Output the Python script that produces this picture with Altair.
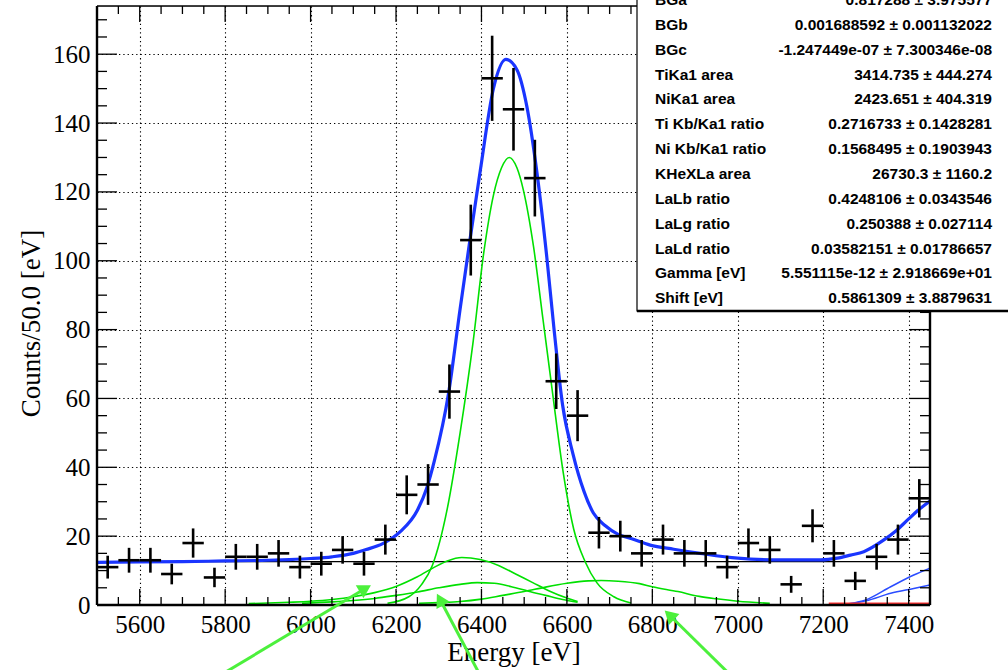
import altair as alt
import pandas as pd

# ---------------- data ----------------
bin_center = [5525, 5575, 5625, 5675, 5725, 5775, 5825, 5875, 5925, 5975,
              6025, 6075, 6125, 6175, 6225, 6275, 6325, 6375, 6425, 6475,
              6525, 6575, 6625, 6675, 6725, 6775, 6825, 6875, 6925, 6975,
              7025, 7075, 7125, 7175, 7225, 7275, 7325, 7375, 7425]
counts = [11, 13, 13, 9, 18, 8, 14, 14, 15, 11,
          12, 16, 12, 19, 32, 35, 62, 106, 153, 144,
          124, 65, 55, 21, 20, 15, 19, 15, 15, 11,
          18, 16, 6, 23, 15, 7, 14, 19, 31]

total_e = [5500, 5600, 5700, 5800, 5900, 5950, 6000, 6050, 6100, 6130, 6170,
           6210, 6250, 6272, 6290, 6323, 6350, 6373, 6397, 6428, 6457, 6483,
           6506, 6530, 6553, 6570, 6590, 6614, 6640, 6662, 6690, 6720, 6750,
           6795, 6850, 6912, 7000, 7100, 7194, 7233, 7264, 7295, 7342, 7370,
           7400, 7425, 7450]
total_v = [12.4, 12.5, 12.6, 12.8, 13.0, 13.2, 13.5, 14.0, 15.0, 16.1, 17.9,
           21.3, 27.5, 34.0, 42.0, 61.5, 86.0, 106.0, 126.0, 150.0, 158.5, 155.5,
           145.0, 125.5, 101.0, 80.0, 58.0, 44.0, 33.0, 26.7, 23.0, 20.5, 19.3,
           17.4, 16.2, 15.0, 13.6, 13.1, 13.1, 13.6, 14.5, 15.5, 18.9, 21.5,
           25.0, 27.8, 30.2]

lalpha_e = [6180, 6230, 6260, 6285, 6320, 6350, 6380, 6405, 6428, 6447, 6465,
            6483, 6498, 6522, 6544, 6565, 6592, 6616, 6643, 6670, 6710, 6750]
lalpha_v = [0.5, 2.4, 6.0, 11.5, 28.0, 50.0, 76.0, 102.0, 119.0, 127.0, 130.0,
            127.0, 120.6, 104.0, 83.0, 63.0, 38.0, 22.0, 12.5, 6.5, 2.4, 0.6]

bump1_e = [5855, 5950, 6000, 6050, 6100, 6150, 6200, 6250, 6290, 6320, 6354,
           6397, 6440, 6480, 6520, 6560, 6600, 6625]
bump1_v = [0.4, 0.8, 1.1, 1.6, 2.4, 3.6, 5.4, 8.2, 11.0, 12.8, 13.8,
           13.2, 11.5, 9.0, 6.5, 4.0, 2.0, 1.0]

bump2_e = [5980, 6050, 6100, 6150, 6200, 6250, 6300, 6350, 6390, 6430, 6470,
           6510, 6550, 6590, 6625]
bump2_v = [0.5, 0.9, 1.3, 1.9, 2.8, 3.8, 5.0, 6.0, 6.5, 6.3, 5.3,
           4.0, 2.8, 1.6, 0.8]

bump3_e = [6254, 6300, 6350, 6400, 6450, 6500, 6550, 6600, 6650, 6680, 6720,
           6770, 6800, 6860, 6910, 6950, 7000, 7075]
bump3_v = [0.5, 0.7, 1.0, 1.7, 2.8, 3.9, 5.2, 6.3, 7.0, 7.1, 6.9,
           6.2, 5.3, 3.9, 2.5, 1.8, 1.1, 0.5]

kb1_e = [7256, 7300, 7358, 7412, 7450]
kb1_v = [0.3, 1.5, 5.3, 8.7, 10.7]
kb2_e = [7256, 7300, 7358, 7412, 7450]
kb2_v = [0.3, 1.2, 3.4, 4.8, 5.8]
red_e = [7213, 7450]
red_v = [0.4, 0.4]
bg_e = [5500, 7450]
bg_v = [12.6, 12.6]

x_major = [5600, 5800, 6000, 6200, 6400, 6600, 6800, 7000, 7200, 7400]
x_minor = [e for e in range(5550, 7451, 50) if e not in x_major]
y_major = [0, 20, 40, 60, 80, 100, 120, 140, 160]
y_minor = [v for v in range(5, 171, 5) if v not in y_major]

arrow_tail_e = [5801, 6393, 6976]
arrow_tail_v = [-19.5, -19.5, -19.5]
arrow_tip_e = [6128, 6303, 6840]
arrow_tip_v = [4.8, 1.6, -2.9]
arrow_angle = [59.6, 331.4, 313.6]

stat_labels = ["BGa", "BGb", "BGc", "TiKa1 area", "NiKa1 area", "Ti Kb/Ka1 ratio",
               "Ni Kb/Ka1 ratio", "KHeXLa area", "LaLb ratio", "LaLg ratio",
               "LaLd ratio", "Gamma [eV]", "Shift [eV]"]
stat_values = ["0.817288 ± 3.975577", "0.001688592 ± 0.001132022",
               "-1.247449e-07 ± 7.300346e-08", "3414.735 ± 444.274",
               "2423.651 ± 404.319", "0.2716733 ± 0.1428281",
               "0.1568495 ± 0.1903943", "26730.3 ± 1160.2",
               "0.4248106 ± 0.0343546", "0.250388 ± 0.027114",
               "0.03582151 ± 0.01786657", "5.551115e-12 ± 2.918669e+01",
               "0.5861309 ± 3.8879631"]

# ---------------- layout ----------------
W, H = 833, 599
XDOM = [5500, 7450]
YDOM = [0, 174]
SERIF = "Liberation Serif"
SANS = "Liberation Sans"

xs = alt.Scale(domain=XDOM, nice=False, zero=False)
ys = alt.Scale(domain=YDOM, nice=False, zero=False)

GREEN = "#00e000"
BLUE = "#1a35ff"

pts = pd.DataFrame({"e": bin_center, "c": counts})

base_axes = alt.Chart(pts).mark_point(opacity=0).encode(
    x=alt.X("e:Q", scale=xs, axis=alt.Axis(
        values=x_major, format="d", grid=True, gridDash=[1.3, 3], gridColor="black",
        gridWidth=1.1, gridOpacity=1, ticks=False, tickSize=0, domain=False,
        labelFont=SERIF, labelFontSize=25, labelColor="black", labelPadding=27,
        labelBaseline="alphabetic", labelFlush=False,
        title="Energy [eV]", titleFont=SERIF, titleFontSize=27,
        titleFontWeight="normal", titleColor="black", titleX=W / 2, titleY=55,
        titleBaseline="alphabetic", titleAlign="center")),
    y=alt.Y("c:Q", scale=ys, axis=alt.Axis(
        values=y_major, format="d", grid=True, gridDash=[1.3, 3], gridColor="black",
        gridWidth=1.1, gridOpacity=1, ticks=False, tickSize=0, domain=False,
        labelFont=SERIF, labelFontSize=25, labelColor="black", labelPadding=7,
        labelFlush=False,
        title="Counts/50.0 [eV]", titleFont=SERIF, titleFontSize=27,
        titleFontWeight="normal", titleColor="black", titleX=-66, titleY=317,
        titleAngle=270, titleBaseline="middle", titleAlign="center")),
)


def curve(ev, val, color, width):
    df = pd.DataFrame({"e": ev, "v": val})
    return alt.Chart(df).mark_line(color=color, strokeWidth=width,
                                   interpolate="monotone", clip=True).encode(
        x=alt.X("e:Q", scale=xs), y=alt.Y("v:Q", scale=ys))


bg_line = curve(bg_e, bg_v, "black", 1.3)
g1 = curve(lalpha_e, lalpha_v, GREEN, 1.6)
g2 = curve(bump1_e, bump1_v, GREEN, 1.6)
g3 = curve(bump2_e, bump2_v, GREEN, 1.6)
g4 = curve(bump3_e, bump3_v, GREEN, 1.6)
b1 = curve(kb1_e, kb1_v, "#2a4cff", 1.5)
b2 = curve(kb2_e, kb2_v, "#2a4cff", 1.5)
red = curve(red_e, red_v, "#ff3030", 2.2)
total = curve(total_e, total_v, BLUE, 3.2)

verr = alt.Chart(pts).transform_calculate(
    lo="datum.c - sqrt(datum.c)", hi="datum.c + sqrt(datum.c)"
).mark_rule(color="black", strokeWidth=2.6).encode(
    x=alt.X("e:Q", scale=xs), y=alt.Y("lo:Q", scale=ys), y2="hi:Q")
herr = alt.Chart(pts).transform_calculate(
    xl="datum.e - 25", xr="datum.e + 25"
).mark_rule(color="black", strokeWidth=2.6).encode(
    x=alt.X("xl:Q", scale=xs), x2="xr:Q", y=alt.Y("c:Q", scale=ys))


def ticks_x(vals, y0, y1):
    return alt.Chart(pd.DataFrame({"t": vals})).mark_rule(
        color="black", strokeWidth=1.3).encode(
        x=alt.X("t:Q", scale=xs), y=alt.value(y0), y2=alt.value(y1))


def ticks_y(vals, x0, x1):
    return alt.Chart(pd.DataFrame({"t": vals})).mark_rule(
        color="black", strokeWidth=1.3).encode(
        y=alt.Y("t:Q", scale=ys), x=alt.value(x0), x2=alt.value(x1))


one = pd.DataFrame({"k": [0]})


def prule(x0, x1, y0, y1, w, color="black"):
    return alt.Chart(one).mark_rule(color=color, strokeWidth=w).encode(
        x=alt.value(x0), x2=alt.value(x1), y=alt.value(y0), y2=alt.value(y1))


ticks = [
    ticks_x(x_major, H, H - 16), ticks_x(x_minor, H, H - 8),
    ticks_x(x_major, 0, 16), ticks_x(x_minor, 0, 8),
    ticks_y(y_major, 0, 20), ticks_y(y_minor, 0, 10),
    ticks_y(y_major, W, W - 20), ticks_y(y_minor, W, W - 10),
]
frame = [
    prule(0, 0, 0, H, 2.4), prule(0, W, H, H, 2.4),
    prule(0, W, 0, 0, 1.6), prule(W, W, 0, H, 2.4),
]

arr = pd.DataFrame({"te": arrow_tail_e, "tv": arrow_tail_v,
                    "he": arrow_tip_e, "hv": arrow_tip_v, "ang": arrow_angle})
arrow_lines = alt.Chart(arr).mark_rule(color="#4cf03c", strokeWidth=3).encode(
    x=alt.X("te:Q", scale=xs), y=alt.Y("tv:Q", scale=ys),
    x2="he:Q", y2="hv:Q")
arrow_heads = alt.Chart(arr).mark_point(
    shape="triangle-up", filled=True, color="#4cf03c", size=230, opacity=1).encode(
    x=alt.X("he:Q", scale=xs), y=alt.Y("hv:Q", scale=ys), angle=alt.Angle("ang:Q", scale=None))

# stats box
box = alt.Chart(one).mark_rect(fill="white", stroke="black", strokeWidth=1.2).encode(
    x=alt.value(540), x2=alt.value(920), y=alt.value(-20), y2=alt.value(305))
box_bottom = prule(540, 920, 305, 305, 2.6)
stat_text = []
for i, (lab, val) in enumerate(zip(stat_labels, stat_values)):
    yy = -6 + i * 24.85
    stat_text.append(alt.Chart(pd.DataFrame({"t": [lab]})).mark_text(
        font=SANS, fontSize=15.5, fontWeight="bold", align="left", baseline="middle",
        color="black").encode(text="t:N", x=alt.value(558), y=alt.value(yy)))
    stat_text.append(alt.Chart(pd.DataFrame({"t": [val]})).mark_text(
        font=SANS, fontSize=15.5, fontWeight="bold", align="right", baseline="middle",
        color="black").encode(text="t:N", x=alt.value(895), y=alt.value(yy)))

chart = alt.layer(
    base_axes, bg_line, g1, g2, g3, g4, b1, b2, red, total, verr, herr,
    *ticks, *frame, arrow_lines, arrow_heads, box, box_bottom, *stat_text
).properties(
    width=W, height=H,
    autosize=alt.AutoSizeParams(type="none"),
    padding={"left": 97, "top": 6, "right": 78, "bottom": 65},
).configure_view(stroke=None).configure(background="white")

chart.save("out.html", embed_options={"renderer": "svg", "actions": False})
